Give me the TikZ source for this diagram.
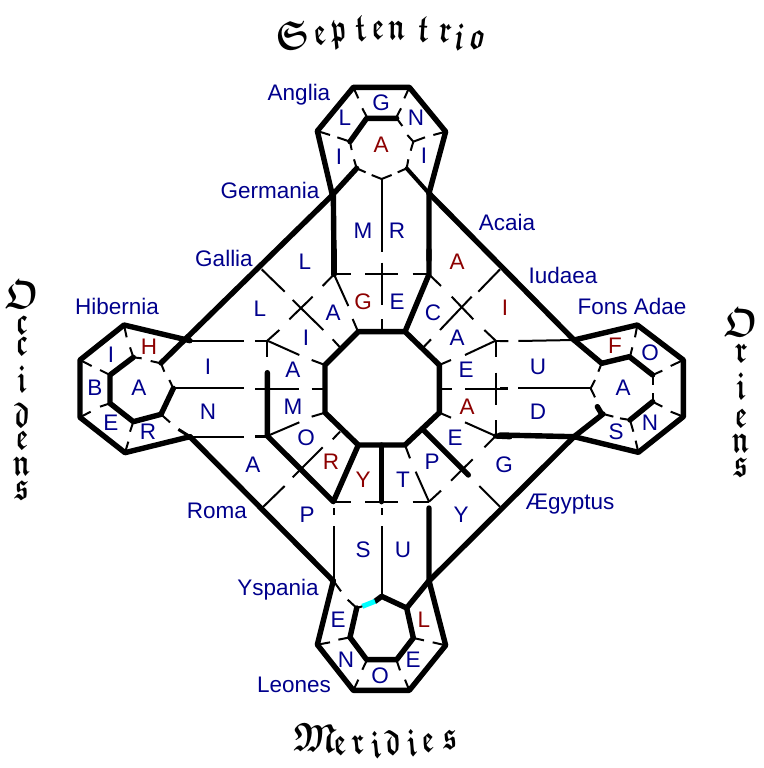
\documentclass[tikz,border=0pt]{standalone}
\usepackage{amsmath, amssymb}
\usepackage{bm}
\usepackage{fontspec}
\setmainfont{Liberation Sans}
\definecolor{placeblue}{rgb}{0,0,0.55}
\definecolor{placered}{rgb}{0.55,0,0}
\definecolor{seam}{rgb}{0,1,1}
\newcommand{\goth}[1]{\scalebox{0.9}[1.3]{$\bm{\mathfrak{#1}}$}}
\newcommand{\gothcap}[1]{\scalebox{1.15}[1.35]{$\bm{\mathfrak{#1}}$}}
\tikzset{
    heavy/.style={line width=5.4pt, line cap=round, line join=round},
    light/.style={line width=2pt},
    place/.style={text=placeblue, font=\fontsize{22.5}{22.5}\selectfont, inner sep=0pt},
    letterb/.style={text=placeblue, font=\fontsize{22.5}{22.5}\selectfont, inner sep=0pt},
    letterr/.style={text=placered, font=\fontsize{22.5}{22.5}\selectfont, inner sep=0pt},
    compass/.style={text=black, font=\fontsize{30}{0}\selectfont\lineskiplimit-200pt\relax, inner sep=0pt},
}
\begin{document}
\begin{tikzpicture}[x=1pt, y=-1pt]
    \useasboundingbox (0,0) rectangle (763,768);

    % centre and the four arms
    \begin{scope}[shift={(250,250)}, scale=1/3]
        \draw[heavy] (325,245) -- (465,245) -- (568,345) -- (568,488) -- (465,585) -- (325,585) -- (225,488) -- (225,345) -- cycle;
        \draw[heavy] (252,0) -- (252,73);
        \draw[heavy] (537,0) -- (537,73) -- (465,245);
        \draw[heavy] (52,368) -- (52,558) -- (250,755) -- (325,585);
        \draw[heavy] (395,585) -- (395,755);
        \draw[heavy] (520,540) -- (655,675);
        \draw[heavy] (737,558) -- (780,560);
        \draw[light] (395,0) -- (395,5) (395,38) -- (395,165) (395,208) -- (395,245);
        \draw[light] (252,73) -- (303,73) (345,73) -- (445,73) (488,73) -- (537,73);
        \draw[light] (252,757) -- (303,757) (345,757) -- (445,757) (488,757) -- (537,757);
        \draw[light] (252,73) -- (218,108) (188,140) -- (118,208) (88,240) -- (52,272);
        \draw[light] (35,58) -- (104,125) (128,150) -- (220,240) (248,268) -- (270,292);
        \draw[light] (750,58) -- (685,125) (665,140) -- (570,240) (543,268) -- (522,290);
        \draw[light] (537,73) -- (573,108) (605,140) -- (670,208) (703,240) -- (737,272);
        \draw[light] (737,558) -- (703,592) (668,628) -- (603,692) (573,722) -- (537,755);
        \draw[light] (688,708) -- (750,770);
        \draw[light] (270,545) -- (248,568) (218,592) -- (128,682) (104,708) -- (35,775);
        \draw[light] (52,272) -- (52,322) (737,272) -- (737,320) (737,368) -- (737,465) (737,510) -- (737,558);
        \draw[light] (15,272) -- (52,272) (15,417) -- (148,417) (185,417) -- (225,417) (15,558) -- (52,558);
        \draw[light] (568,417) -- (605,417) (645,417) -- (775,417) (737,272) -- (775,272);
        \draw[light] (52,272) -- (148,315) (185,330) -- (225,345);
        \draw[light] (52,558) -- (148,517) (185,500) -- (225,488);
        \draw[light] (568,345) -- (603,330) (645,315) -- (737,272);
        \draw[light] (568,488) -- (603,503) (645,517) -- (737,558);
        \draw[light] (322,240) -- (308,207) (295,168) -- (252,73);
        \draw[light] (465,585) -- (480,625) (497,665) -- (537,755);
    \end{scope}

    % big diagonals
    \draw[heavy] (332.5,195) -- (161,363);
    \draw[heavy] (429,193.3) -- (574,340) -- (601.7,363.3);
    \draw[heavy] (333.3,581) -- (190,436.7);
    \draw[heavy] (429,581) -- (574,436.7) -- (603,414);

    % north
    \begin{scope}[shift={(250,0)}, scale=1/3]
        \draw[heavy] (247,585) -- (202,393) -- (310,262) -- (478,262) -- (587,395) -- (537,580);
        \draw[heavy] (300,425) -- (350,355) -- (440,355);
        \draw[heavy] (247,585) -- (320,505);
        \draw[heavy] (250,585) -- (252,780) (537,580) -- (537,780);
        \draw[heavy, line width=4pt] (537,580) -- (470,505);
        \draw[light] (310,262) -- (325,295) (350,350) -- (337,325);
        \draw[light] (478,262) -- (463,295) (440,350) -- (453,325);
        \draw[light] (202,393) -- (240,405) (262,412) -- (300,425);
        \draw[light] (587,395) -- (550,405) (525,412) -- (490,425);
        \draw[light] (440,355) -- (457,378) (472,405) -- (490,425);
        \draw[light] (300,425) -- (305,450) (312,478) -- (320,505);
        \draw[light] (490,425) -- (482,452) (475,478) -- (470,505);
        \draw[light] (320,505) -- (347,517) (365,525) -- (395,537);
        \draw[light] (395,537) -- (425,525) (443,517) -- (470,505);
        \draw[light] (395,537) -- (395,755);
    \end{scope}

    % south
    \begin{scope}[shift={(250,508)}, scale=1/3]
        \draw[heavy] (250,218) -- (202,410) -- (310,547) -- (478,547) -- (587,412) -- (537,218);
        \draw[heavy] (375,280) -- (395,265) -- (470,300) -- (490,390) -- (440,455) -- (350,455) -- (300,388) -- (320,300);
        \draw[heavy] (537,218) -- (470,300) (537,0) -- (537,218);
        \draw[line width=5pt, seam] (337,295) -- (375,280);
        \draw[light] (250,218) -- (273,250) (293,275) -- (320,300) -- (337,295);
        \draw[light] (202,410) -- (240,403) (265,395) -- (300,388);
        \draw[light] (587,412) -- (548,403) (522,397) -- (490,390);
        \draw[light] (310,547) -- (325,515) (337,485) -- (350,458);
        \draw[light] (478,547) -- (465,515) (450,487) -- (440,458);
        \draw[light] (252,0) -- (252,22) (252,55) -- (252,218);
        \draw[light] (395,0) -- (395,22) (395,55) -- (395,265);
    \end{scope}

    % west
    \begin{scope}[shift={(0,260)}, scale=1/3]
        \draw[heavy] (570,242) -- (372,195) -- (240,300) -- (240,472) -- (375,578) -- (570,530);
        \draw[heavy] (400,292) -- (330,345) -- (330,430) -- (400,485) -- (483,463) -- (520,385);
        \draw[light] (570,242) -- (733,242) (765,242) -- (801,242);
        \draw[light] (522,385) -- (733,385);
        \draw[light] (570,530) -- (733,530) (765,530) -- (801,530);
        \draw[light] (400,292) -- (425,295) (452,303) -- (483,310);
        \draw[light] (483,310) -- (493,335) (508,360) -- (520,385);
        \draw[light, line width=3pt] (570,530) -- (535,508);
        \draw[light] (510,487) -- (483,463);
        \draw[light] (372,195) -- (380,232) (390,262) -- (400,292);
        \draw[light] (240,300) -- (275,318) (300,330) -- (330,345);
        \draw[light] (240,472) -- (272,455) (300,440) -- (330,430);
        \draw[light] (375,578) -- (385,545) (390,515) -- (400,485);
    \end{scope}

    % east
    \begin{scope}[shift={(500,260)}, scale=1/3]
        \draw[heavy] (222,240) -- (412,195) -- (550,300) -- (550,470) -- (415,577) -- (222,530) -- (0,525);
        \draw[heavy] (305,310) -- (388,290) -- (458,345);
        \draw[heavy] (458,425) -- (390,480);
        \draw[heavy] (292,440) -- (305,462);
        \draw[light] (0,243) -- (25,243) (55,243) -- (222,240);
        \draw[light] (0,385) -- (25,385) (55,385) -- (272,385);
        \draw[light] (305,310) -- (295,335) (285,360) -- (272,385) -- (285,412);
        \draw[light] (310,462) -- (340,470) (360,475) -- (390,480);
        \draw[light] (458,345) -- (458,375) (458,400) -- (458,425);
        \draw[light] (412,195) -- (405,232) (397,262) -- (390,290);
        \draw[light] (550,300) -- (512,318) (487,332) -- (458,345);
        \draw[light] (550,470) -- (512,455) (487,440) -- (458,425);
        \draw[light] (415,577) -- (407,542) (400,515) -- (390,480);
    \end{scope}

    % names
    \node[place] (anglia) at (299,95) {Anglia};
    \node[place] (germania) at (270,190) {Germania};
    \node[place] (gallia) at (224,258) {Gallia};
    \node[place] (hibernia) at (117,306) {Hibernia};
    \node[place] (roma) at (217,511) {Roma};
    \node[place] (yspania) at (278,590) {Yspania};
    \node[place] (leones) at (294,685) {Leones};
    \node[place] (acaia) at (507,222) {Acaia};
    \node[place] (iudaea) at (563,275) {Iudaea};
    \node[place] (fons) at (632,306) {Fons Adae};
    \node[place] (aegyptus) at (570,504) {Ægyptus};

    % letters
    \foreach \x/\y/\t [count=\i] in {381/103/G, 345/118/L, 416/118/N, 339/157/I, 424/156/I, 363/231/M, 397/231/R,
        305/262/L, 260/309/L, 397/302/E, 433/313/C, 333/313/A, 457/338/A, 306/338/I, 293/370/A, 466/370/E,
        293/407/M, 306/438/O, 455/438/E, 432/462/P, 403/480/T, 504/465/G, 253/465/A, 307/515/P, 461/515/Y,
        363/550/S, 403/550/U, 338/620/E, 346/660/N, 413/660/E, 380/676/O,
        111/355/I, 95/388/B, 139/388/A, 111/423/E, 148/432/R, 208/367/I, 208/412/N,
        650/353/O, 623/388/A, 650/423/N, 616/432/S, 538/367/U, 538/412/D}
        \node[letterb] (b\i) at (\x,\y) {\t};
    \foreach \x/\y/\t [count=\i] in {381/145/A, 363/302/G, 457/262/A, 505/308/I, 467/407/A, 331/462/R, 363/480/Y,
        424/620/L, 149/347/H, 615/346/F}
        \node[letterr] (r\i) at (\x,\y) {\t};

    % the four quarters
    \node[compass, rotate=8] (north) at (292,35) {\gothcap{S}};
    \foreach \x/\y/\a/\t [count=\i] in {320/35/8/e, 339/35/6/p, 360/29/4/t, 378/30/2/e, 397/30/-1/n, 423/30/-4/t, 445/33/-7/r, 460/37/-9/i, 477/40/-10/o}
        \node[compass, rotate=\a] (s\i) at (\x,\y) {\goth{\t}};
    \node[compass, rotate=-3] (south) at (315,738) {\gothcap{M}};
    \foreach \x/\y/\a/\t [count=\i] in {340/746/6/e, 358/745/6/r, 376/745/6/i, 393/743/5/d, 412/743/5/i, 428/743/5/e, 450/740/5/s}
        \node[compass, rotate=\a] (m\i) at (\x,\y) {\goth{\t}};
    \node[compass, align=center] (west) at (22,390) {\gothcap{O}\\[26pt]\goth{c}\\[21pt]\goth{c}\\[37pt]\goth{i}\\[35pt]\goth{d}\\[22pt]\goth{e}\\[26pt]\goth{n}\\[24pt]\goth{s}};
    \node[compass, align=center] (east) at (741,392) {\gothcap{O}\\[26pt]\goth{r}\\[37pt]\goth{i}\\[28pt]\goth{e}\\[25pt]\goth{n}\\[24pt]\goth{s}};
\end{tikzpicture}
\end{document}
